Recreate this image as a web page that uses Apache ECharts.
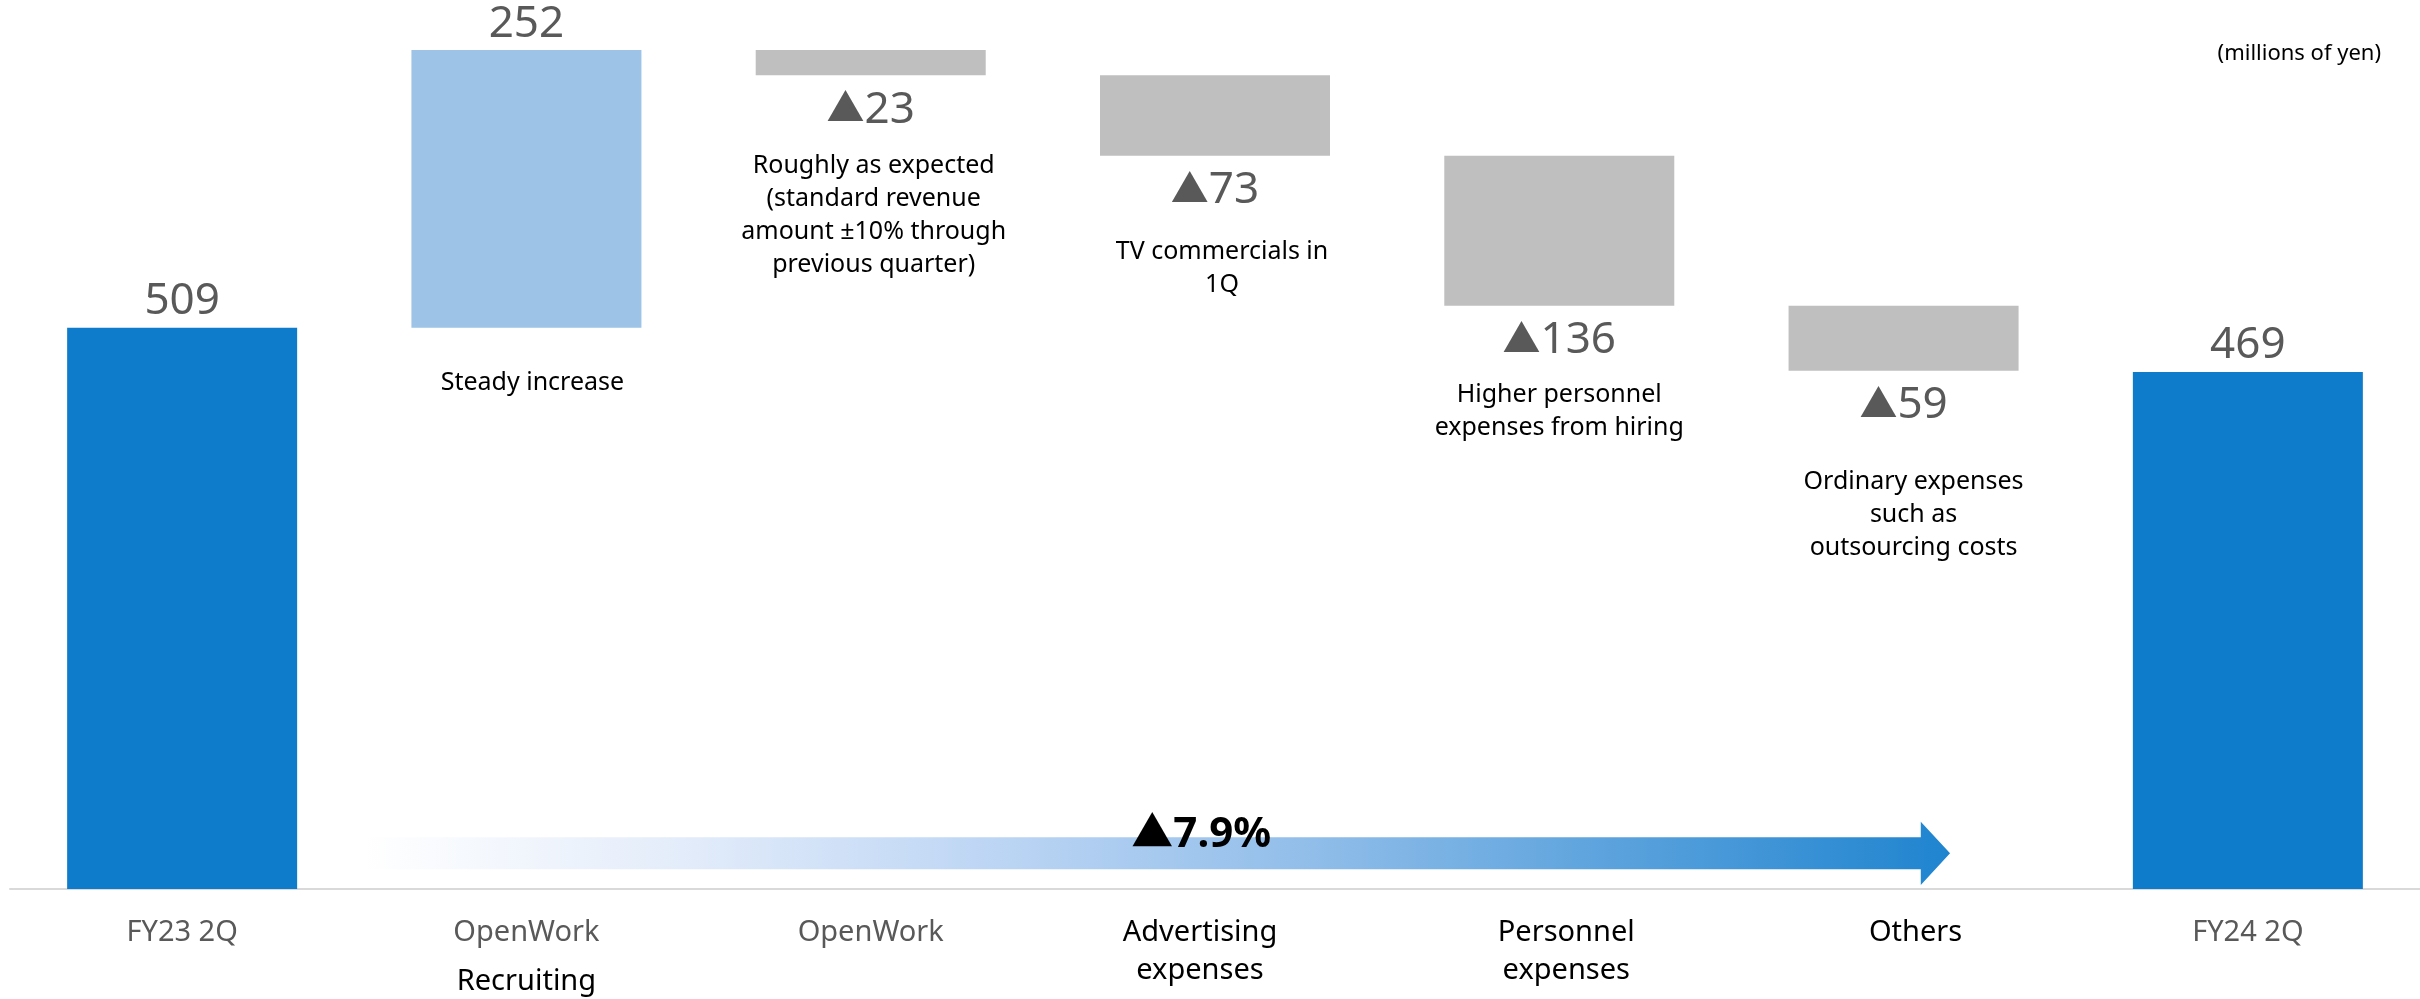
<!DOCTYPE html>
<html>
<head>
<meta charset="utf-8">
<script src="https://cdn.jsdelivr.net/npm/echarts@6/dist/echarts.min.js"></script>
<style>
  html, body { margin: 0; padding: 0; background: #ffffff; }
  #chart { width: 2420px; height: 999px; }
</style>
</head>
<body>
<div id="chart"></div>
<script>
// Operating profit bridge, FY23 2Q -> FY24 2Q (millions of yen)
const categories = ['FY23 2Q', 'OpenWork\nRecruiting', 'OpenWork', 'Advertising\nexpenses', 'Personnel\nexpenses', 'Others', 'FY24 2Q'];
const startValue = 509;
const changes = [252, -23, -73, -136, -59];   // one per middle category
const endValue = 469;
const notes = [
  '',
  'Steady increase',
  'Roughly as expected\n(standard revenue\namount \u00b110% through\nprevious quarter)',
  'TV commercials in\n1Q',
  'Higher personnel\nexpenses from hiring',
  'Ordinary expenses\nsuch as\noutsourcing costs',
  ''
];

// ---- styling ----
const FONT = '"Noto Sans", "Noto Sans CJK JP", sans-serif';
const GRAY_TEXT = '#595959';
const TOTAL_COLOR = '#0e7bcb';
const UP_COLOR = '#9dc3e6';
const DOWN_COLOR = '#bfbfbf';
const noteGap = [0, 39, 74, 80, 73, 95, 0];      // space between bar bottom and note text
const noteShift = [0, 6, 3, 7, 0, 10, 0];        // horizontal nudge of each note
const labelShift = [0, 0, 0, -15, 7, 12, 0];     // horizontal nudge of each axis label
const grayFirstLine = [true, true, true, false, false, false, true];

// ---- waterfall stacking ----
const baseVals = [0];
const shownVals = [startValue];
let running = startValue;
let peak = startValue;
changes.forEach(c => {
  if (c >= 0) { baseVals.push(running); shownVals.push(c); running += c; }
  else { running += c; baseVals.push(running); shownVals.push(-c); }
  peak = Math.max(peak, running, running - c);
});
baseVals.push(0);
shownVals.push(endValue);

const kinds = ['total'].concat(changes.map(c => c >= 0 ? 'up' : 'down'), ['total']);

const baseData = baseVals.map((v, i) => {
  const item = { value: v };
  if (notes[i]) {
    item.label = {
      show: true,
      position: 'insideTop',
      distance: noteGap[i],
      offset: [noteShift[i], 0],
      formatter: notes[i],
      color: '#000000',
      fontSize: 25,
      lineHeight: 33,
      fontFamily: FONT,
      align: 'center'
    };
  }
  return item;
});

const shownData = shownVals.map((v, i) => {
  const k = kinds[i];
  const down = k === 'down';
  return {
    value: v,
    itemStyle: { color: k === 'total' ? TOTAL_COLOR : (k === 'up' ? UP_COLOR : DOWN_COLOR) },
    label: {
      show: true,
      position: down ? 'bottom' : 'top',
      distance: down ? 13 : 4,
      formatter: down ? '{t|\u25b2}' + v : String(v),
      color: GRAY_TEXT,
      fontSize: 44,
      fontFamily: FONT,
      rich: { t: { color: GRAY_TEXT, fontSize: 38, fontFamily: FONT } }
    }
  };
});

const pct = ((startValue - endValue) / startValue * 100).toFixed(1);

// gradient arrow running under the bridge
function renderArrow(params, api) {
  const p0 = api.coord([0, 0]);
  const p1 = api.coord([1, 0]);
  const step = p1[0] - p0[0];
  const xAt = f => p0[0] + step * f;
  const yAt = v => api.coord([0, v])[1];
  const x0 = xAt(0.53), xHead = xAt(5.05), xTip = xAt(5.135);
  const bTop = yAt(47), bBot = yAt(18), hTop = yAt(61), hBot = yAt(3.6);
  const yMid = (bTop + bBot) / 2;
  return {
    type: 'group',
    children: [
      {
        type: 'polygon',
        shape: { points: [[x0, bTop], [xHead, bTop], [xHead, hTop], [xTip, yMid], [xHead, hBot], [xHead, bBot], [x0, bBot]] },
        style: {
          fill: new echarts.graphic.LinearGradient(0, 0, 1, 0, [
            { offset: 0, color: 'rgba(255,255,255,1)' },
            { offset: 0.2, color: '#e3ecfa' },
            { offset: 0.4, color: '#bcd5f4' },
            { offset: 0.6, color: '#90bde9' },
            { offset: 1, color: '#1f84cf' }
          ])
        }
      },
      {
        type: 'text',
        x: xAt(2.96),
        y: yMid - 18,
        style: {
          text: '\u25b2' + pct + '%',
          fill: '#000000',
          font: 'bold 42px ' + FONT,
          align: 'center',
          verticalAlign: 'middle'
        }
      }
    ]
  };
}

// rich styles for axis labels: gray/black text, per-label horizontal nudge via padding
const rich = {};
categories.forEach((c, idx) => {
  const s = labelShift[idx];
  const pad = s >= 0 ? [0, 0, 0, 2 * s] : [0, -2 * s, 0, 0];
  rich['g' + idx] = { color: GRAY_TEXT, fontSize: 29, lineHeight: 38, fontFamily: FONT, padding: pad };
  rich['k' + idx] = { color: '#000000', fontSize: 29, lineHeight: 38, fontFamily: FONT, padding: pad };
  rich['r' + idx] = { color: '#000000', fontSize: 29, lineHeight: 60, fontFamily: FONT, padding: pad };
});

const chart = echarts.init(document.getElementById('chart'), null, { renderer: 'canvas' });
chart.setOption({
  animation: false,
  backgroundColor: '#ffffff',
  title: {
    text: '(millions of yen)',
    right: 34,
    top: 38,
    textStyle: { fontSize: 22, fontWeight: 'normal', color: '#000000', fontFamily: FONT }
  },
  grid: { left: 10, width: 2414, top: 50, bottom: 110, containLabel: false },
  xAxis: {
    type: 'category',
    data: categories,
    axisLine: { lineStyle: { color: '#d9d9d9', width: 2 } },
    axisTick: { show: false },
    axisLabel: {
      margin: 25,
      interval: 0,
      formatter: (value, idx) => {
        const lines = value.split('\n');
        return lines.map((ln, j) => {
          if (j === 0) return '{' + (grayFirstLine[idx] ? 'g' : 'k') + idx + '|' + ln + '}';
          return '{' + (idx === 1 ? 'r' : 'k') + idx + '|' + ln + '}';
        }).join('\n');
      },
      rich: rich
    }
  },
  yAxis: {
    type: 'value',
    min: 0,
    max: peak,
    show: false,
    splitLine: { show: false }
  },
  series: [
    {
      name: 'base',
      type: 'bar',
      stack: 'bridge',
      barWidth: 230,
      itemStyle: { color: 'transparent' },
      emphasis: { disabled: true },
      data: baseData,
      z: 3
    },
    {
      name: 'value',
      type: 'bar',
      stack: 'bridge',
      barWidth: 230,
      emphasis: { disabled: true },
      data: shownData,
      z: 2
    },
    {
      name: 'trend',
      type: 'custom',
      renderItem: renderArrow,
      data: [[0, 0]],
      silent: true,
      z: 4
    }
  ]
});
</script>
</body>
</html>
